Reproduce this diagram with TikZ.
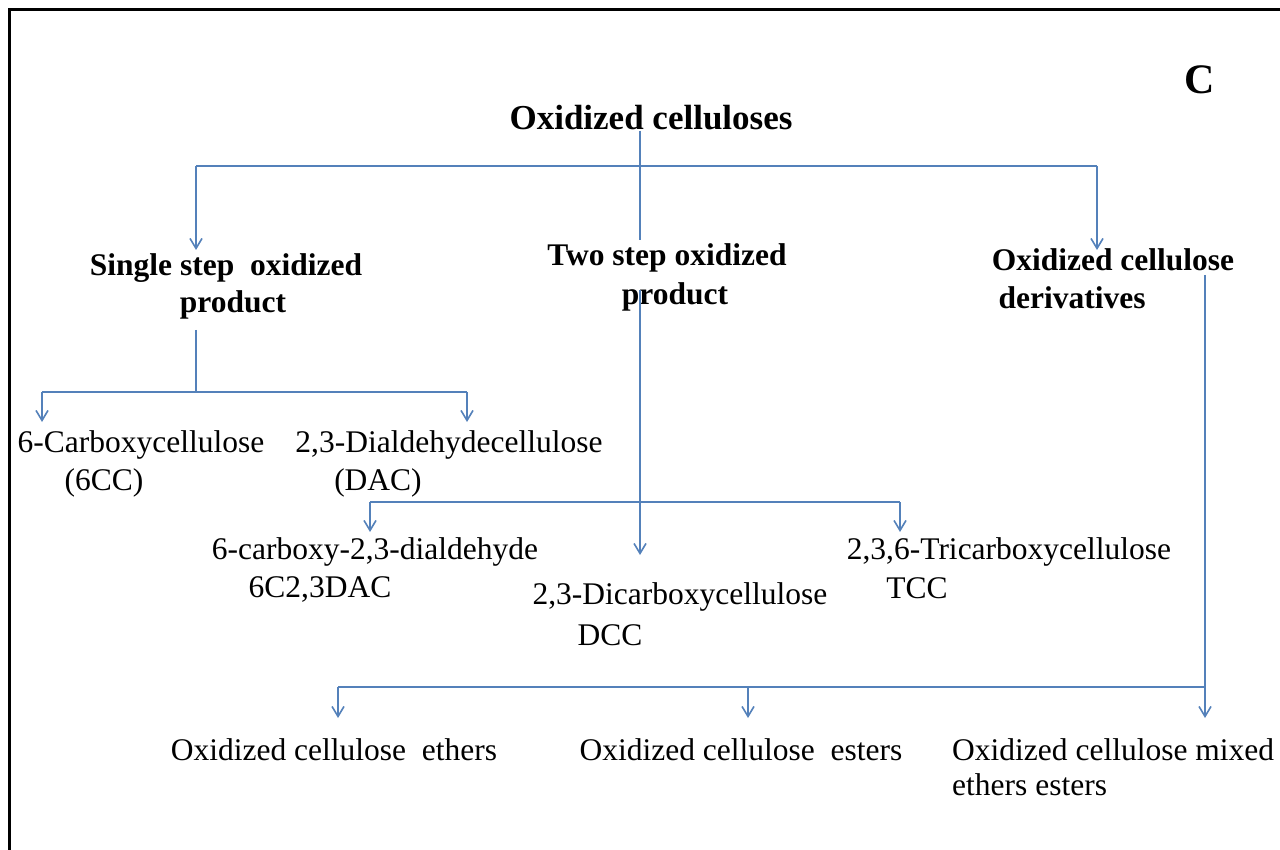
\documentclass[tikz,border=0pt]{standalone}
\usepackage{fontspec}
\setmainfont{Liberation Serif}
\usetikzlibrary{arrows.meta}
\definecolor{conn}{RGB}{84,129,186}
\begin{document}
\begin{tikzpicture}[x=1pt,y=-1pt,
  lbl/.style={inner sep=0pt, font=\fontsize{31.5}{36}\selectfont},
  hdr/.style={inner sep=0pt, font=\fontsize{31.5}{36}\selectfont\bfseries},
  ttl/.style={inner sep=0pt, font=\fontsize{35}{40}\selectfont\bfseries},
  wire/.style={draw=conn, line width=1.6pt},
  arr/.style={wire, -{Straight Barb[length=10pt,width=12pt]}},
  frame/.style={line width=3pt, black}]
\useasboundingbox (0,0) rectangle (1280,850);
\fill[white] (0,0) rectangle (1280,850);
\draw[frame] (9,850) -- (9,10) -- (1280,10);

% text
\node[ttl] (title) at (651,118) {Oxidized celluloses};
\node[inner sep=0pt, font=\fontsize{42}{46}\selectfont\bfseries] (C) at (1200,80) {C};
\node[hdr] (single1) at (226,268) {Single step~ oxidized};
\node[hdr] (single2) at (233,305) {product};
\node[hdr] (two1) at (667,258) {Two step oxidized};
\node[hdr] (two2) at (675,297) {product};
\node[hdr] (der1) at (1113,260) {Oxidized cellulose};
\node[hdr] (der2) at (1072,298) {derivatives};
\node[lbl] (cc) at (141,445) {6-Carboxycellulose};
\node[lbl] (ccb) at (104,483) {(6CC)};
\node[lbl] (dac) at (449,445) {2,3-Dialdehydecellulose};
\node[lbl] (dacb) at (378,483) {(DAC)};
\node[lbl] (cda) at (375,552) {6-carboxy-2,3-dialdehyde};
\node[lbl] (cdab) at (320,589) {6C2,3DAC};
\node[lbl] (dcc) at (680,597) {2,3-Dicarboxycellulose};
\node[lbl] (dccb) at (610,635) {DCC};
\node[lbl] (tcc) at (1009,552) {2,3,6-Tricarboxycellulose};
\node[lbl] (tccb) at (917,588) {TCC};
\node[lbl] (eth) at (334,750) {Oxidized cellulose~ ethers};
\node[lbl] (est) at (741,750) {Oxidized cellulose~ esters};
\node[lbl, anchor=west] (mix) at (952,750) {Oxidized cellulose mixed};
\node[lbl, anchor=west] (mixb) at (952,785) {ethers esters};

% junctions and tips
\coordinate (j0) at (640,166);
\coordinate (stub) at (640,240);
\coordinate (jl) at (196,166);
\coordinate (jr) at (1097,166);
\coordinate (jltip) at (196,250);
\coordinate (jrtip) at (1097,250);
\coordinate (s0) at (196,330);
\coordinate (s1) at (196,392);
\coordinate (sa) at (42,392);
\coordinate (sb) at (467,392);
\coordinate (satip) at (42,422);
\coordinate (sbtip) at (467,422);
\coordinate (t0) at (640,290);
\coordinate (ttip) at (640,555);
\coordinate (ta) at (370,502);
\coordinate (tb) at (900,502);
\coordinate (tatip) at (370,532);
\coordinate (tbtip) at (900,532);
\coordinate (d0) at (1205,275);
\coordinate (d1) at (1205,687);
\coordinate (dtip) at (1205,718);
\coordinate (da) at (338,687);
\coordinate (db) at (748,687);
\coordinate (datip) at (338,718);
\coordinate (dbtip) at (748,718);

% connectors
\draw[wire] (title.south -| j0) -- (stub);
\draw[wire] (jl) -- (jr);
\draw[arr] (jl) -- (jltip);
\draw[arr] (jr) -- (jrtip);
\draw[wire] (s0) -- (s1);
\draw[wire] (sa) -- (sb);
\draw[arr] (sa) -- (satip);
\draw[arr] (sb) -- (sbtip);
\draw[arr] (t0) -- (ttip);
\draw[wire] (ta) -- (tb);
\draw[arr] (ta) -- (tatip);
\draw[arr] (tb) -- (tbtip);
\draw[arr] (d0) -- (dtip);
\draw[wire] (da) -- (d1);
\draw[arr] (da) -- (datip);
\draw[arr] (db |- da) -- (dbtip);
\end{tikzpicture}
\end{document}
